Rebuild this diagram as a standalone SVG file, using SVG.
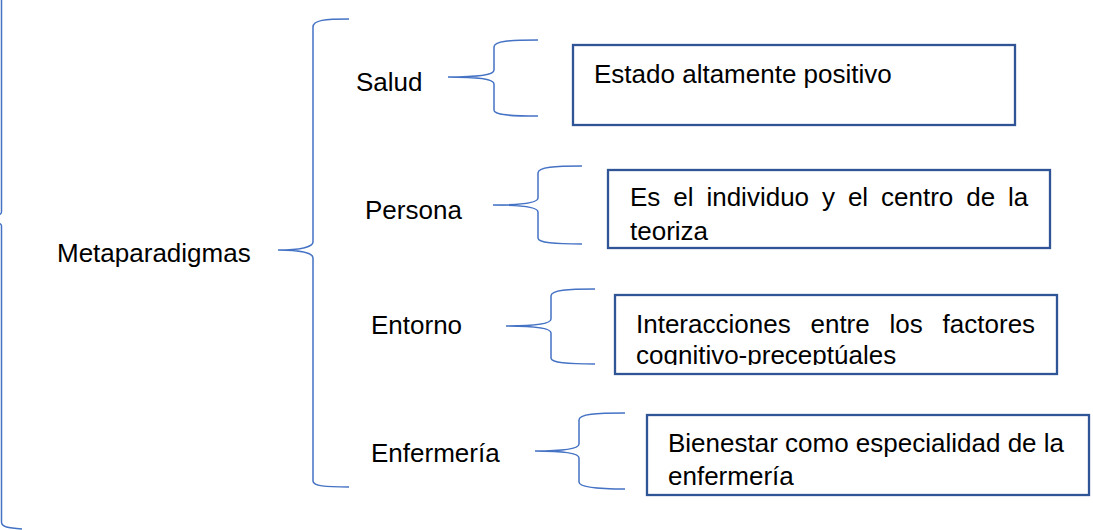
<svg xmlns="http://www.w3.org/2000/svg" width="1093" height="530" viewBox="0 0 1093 530">
<defs>
<style>
.t{font-family:"Liberation Sans",Arial,sans-serif;font-size:26px;fill:#000}
.br{fill:none;stroke:#4472C4;stroke-width:1.5}
.box{fill:#fff;stroke:#2F5597;stroke-width:2.3}
</style>
<clipPath id="c3"><rect x="615" y="296" width="441" height="69"/></clipPath>
</defs>
<rect width="1093" height="530" fill="#fff"/>
<g id="connectors">
<path class="br" d="M22,529 C8,528 1.5,527 1.5,522 L1.5,226 C1.5,222 -10,219 -30,219 C-10,219 1.5,216 1.5,212 L1.5,0"/>
<path class="br" d="M349,19 C325,19 313,20 313,27 L313,242 C313,247 300,250 278,250 C300,250 313,253 313,258 L313,481 C313,486 325,487 349,487"/>
<path class="br" d="M538,40 C510,40 494,41 494,47 L494,70 C494,75 480,77 448,77 C480,77 494,79 494,84 L494,110 C494,115 510,116 538,116"/>
<path class="br" d="M582,166 C555,166 538,167 538,173 L538,198 C538,203 523,205 493,205 C523,205 538,207 538,212 L538,238 C538,243 555,244 582,244"/>
<path class="br" d="M595,289 C568,289 551,290 551,296 L551,319 C551,324 536,326 506,326 C536,326 551,328 551,333 L551,358 C551,363 568,364 595,364"/>
<path class="br" d="M625,413 C596,413 579,414 579,420 L579,444 C579,449 564,451 535,451 C564,451 579,453 579,458 L579,482 C579,487 596,489 625,489"/>
</g>
<g id="metaparadigmas"><text class="t" x="57" y="262">Metaparadigmas</text></g>
<g id="salud"><text class="t" x="356" y="91">Salud</text></g>
<g id="persona"><text class="t" x="365" y="219">Persona</text></g>
<g id="entorno"><text class="t" x="371" y="334">Entorno</text></g>
<g id="enfermeria"><text class="t" x="371" y="462">Enfermería</text></g>
<g id="box-salud">
<rect class="box" x="573" y="45" width="442" height="80"/>
<text class="t" x="594" y="83">Estado altamente positivo</text>
</g>
<g id="box-persona">
<rect class="box" x="608" y="170" width="442" height="78"/>
<text class="t" x="630" y="206" word-spacing="5.7">Es el individuo y el centro de la</text>
<text class="t" x="630" y="240">teoriza</text>
</g>
<g id="box-entorno">
<rect class="box" x="615" y="295" width="442" height="79"/>
<g clip-path="url(#c3)">
<text class="t" x="636" y="333" word-spacing="12.6">Interacciones entre los factores</text>
<text class="t" x="636" y="364">cognitivo-preceptúales</text>
</g>
</g>
<g id="box-enfermeria">
<rect class="box" x="647" y="415" width="442" height="80"/>
<text class="t" x="668" y="452">Bienestar como especialidad de la</text>
<text class="t" x="668" y="485">enfermería</text>
</g>
</svg>
